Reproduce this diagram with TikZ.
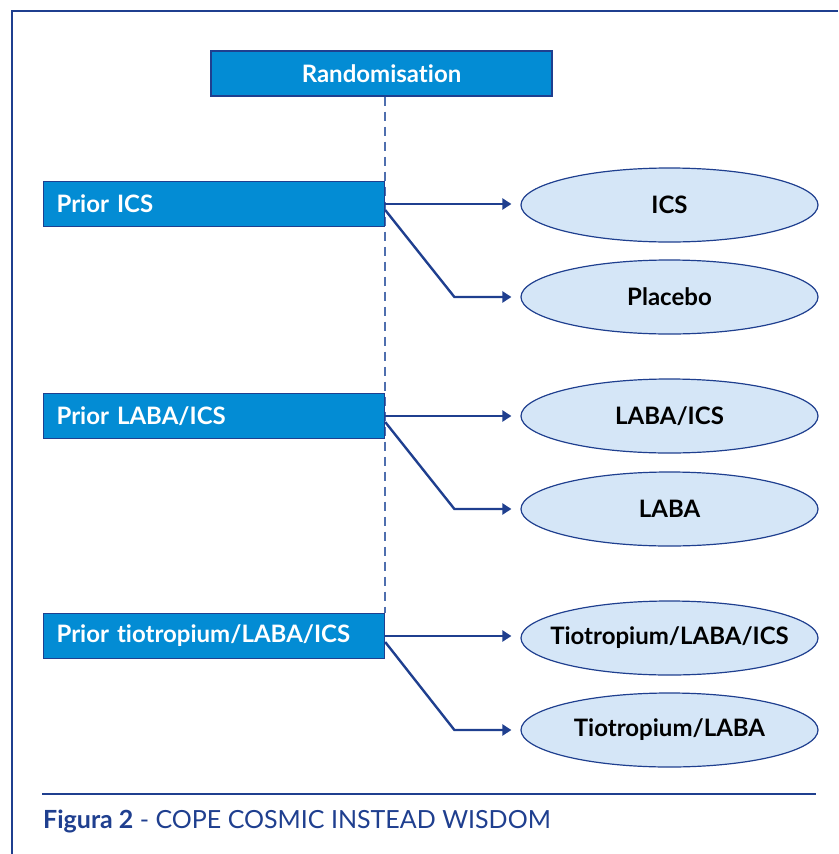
\documentclass[tikz,border=0pt]{standalone}
\usepackage{fontspec}
\setmainfont{Lato}[Ligatures={NoCommon}]
\usetikzlibrary{arrows.meta,shapes.geometric,backgrounds}
\definecolor{frameBlue}{HTML}{1F3F8F}
\definecolor{boxBlue}{HTML}{038CD4}
\definecolor{armFill}{HTML}{D5E6F7}
\definecolor{dashBlue}{HTML}{4F6FAE}
\begin{document}
\begin{tikzpicture}
[x=1pt,y=-1pt,
  headDecorate/.style={draw=frameBlue,line width=1.2pt,fill=boxBlue,text=white,
    font=\bfseries\fontsize{24}{28}\selectfont,minimum width=341pt,minimum height=45pt,inner sep=0pt},
  priorDecorate/.style={draw=frameBlue,line width=1.2pt,fill=boxBlue,text=white,anchor=west,
    font=\bfseries\fontsize{24}{28}\selectfont,text width=315pt,align=left,inner xsep=13pt,
    minimum height=45pt,inner ysep=0pt},
  armDecorate/.style={shape=ellipse,draw=frameBlue,line width=1.2pt,fill=armFill,
    font=\bfseries\fontsize{24}{28}\selectfont,minimum width=297pt,minimum height=74pt,inner sep=0pt},
  lineDecorate/.style={-{Triangle[length=9pt,width=11pt]},draw=frameBlue,line width=2.4pt,
    shorten >=9pt},
  scale=1]
\useasboundingbox (0,0) rectangle (838,854);
%% frame and caption
\draw[frameBlue,line width=2.5pt] (12,854) -- (12,11) -- (838,11);
\draw[frameBlue,line width=1.4pt] (42,794) -- (816,794);
\node (caption) at (43,828) [anchor=base west,inner sep=0pt,text=frameBlue,
  font=\fontsize{25}{29}\selectfont] {\textbf{Figura 2} - COPE COSMIC INSTEAD WISDOM};
%% nodes
\node (rand) at (381.5,73.5) [headDecorate] {Randomisation};
\foreach \nodename/\y/\txt in {
  p1/204/{Prior ICS}, p2/416/{Prior LABA/ICS}, p3/636/{Prior tiotropium/LABA/ICS}}
{
  \node (\nodename) at (43,\y) [priorDecorate] {\txt};
}
\foreach \nodename/\y/\txt in {
  a1/205/{ICS}, a2/297/{Placebo}, b1/416/{LABA/ICS}, b2/509/{LABA},
  c1/638/{Tiotropium/LABA/ICS}, c2/730/{Tiotropium/LABA}}
{
  \node (\nodename) at (669.5,\y) [armDecorate] {\makebox[0pt]{\txt}};
}
%% dashed randomisation line
\begin{scope}[on background layer]
\draw[dashBlue,line width=1.6pt,dash pattern=on 9pt off 6pt] (rand.south -| p1.east) -- (p3.north east);
\end{scope}
%% edges
\foreach \startnode/\upper/\lower in {p1/a1/a2, p2/b1/b2, p3/c1/c2}
{
  \draw[lineDecorate] (\startnode.east) -- (\startnode.east -| \upper.west);
  \draw[lineDecorate] ([yshift=-6pt]\startnode.east) -- ([xshift=-66pt]\lower.west) -- (\lower.west);
}
\end{tikzpicture}
\end{document}
